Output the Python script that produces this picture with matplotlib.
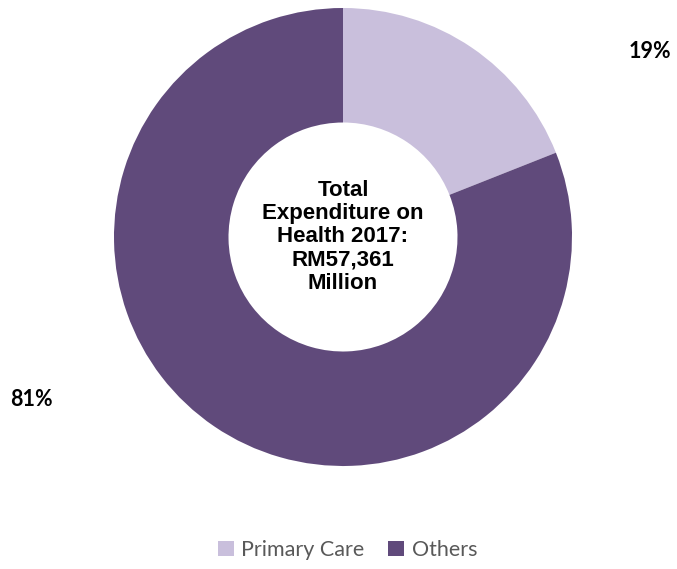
import matplotlib
matplotlib.use("Agg")
import matplotlib.pyplot as plt

# data
labels = ["Primary Care", "Others"]
shares = [19, 81]
pct_text = ["19%", "81%"]
colors = ["#C9BFDC", "#604A7B"]
centre_text = "Total\nExpenditure on\nHealth 2017:\nRM57,361\nMillion"

fig = plt.figure(figsize=(6.77, 5.69), dpi=100)
# axes sized so the ring sits where it does in the original
ax = fig.add_axes([114 / 677, 103 / 569, 458 / 677, 458 / 569])

wedges, _ = ax.pie(shares, colors=colors, startangle=90, counterclock=False,
                   radius=1.0, wedgeprops=dict(width=0.5, linewidth=0))
ax.set_xlim(-1, 1)
ax.set_ylim(-1, 1)
ax.set_aspect("equal")
ax.axis("off")

# percentage labels placed outside the ring
ax.text(1.34, 0.81, pct_text[0], ha="center", va="center", fontsize=15.5,
        fontweight="bold", family=["Lato", "DejaVu Sans"], clip_on=False)
ax.text(-1.36, -0.71, pct_text[1], ha="center", va="center", fontsize=15.5,
        fontweight="bold", family=["Lato", "DejaVu Sans"], clip_on=False)

ax.text(0, 0, centre_text, ha="center", va="center", fontsize=16,
        fontweight="bold", family=["Liberation Sans", "DejaVu Sans"],
        linespacing=1.15)

leg = fig.legend(wedges, labels, loc="center",
                 bbox_to_anchor=(0.5 + 9 / 677, 1 - 550 / 569),
                 ncol=2, frameon=False, handlelength=0.75, handleheight=0.75,
                 handletextpad=0.35, columnspacing=1.1,
                 prop={"family": ["Lato", "DejaVu Sans"], "size": 15.5})
for t in leg.get_texts():
    t.set_color("#595959")

fig.savefig("out.png", dpi=100)
